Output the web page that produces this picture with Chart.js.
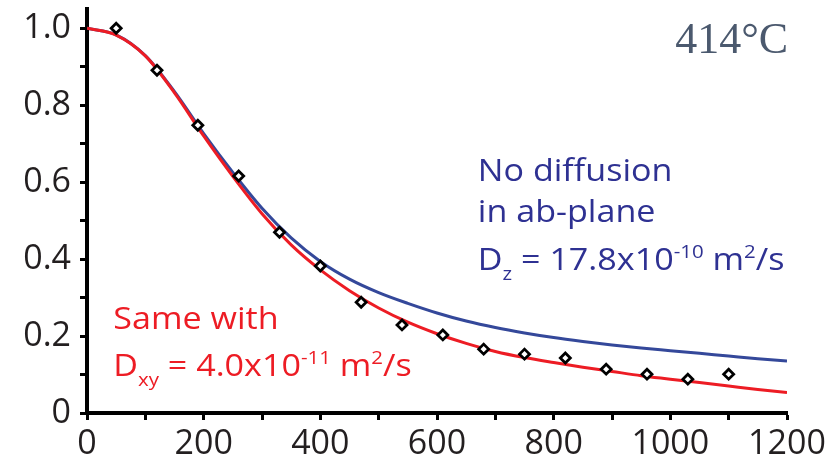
<!DOCTYPE html>
<html>
<head>
<meta charset="utf-8">
<script src="https://cdn.jsdelivr.net/npm/chart.js@4.4.1/dist/chart.umd.min.js"></script>
<style>
  html, body { margin: 0; padding: 0; background: #ffffff; }
  #c { display: block; }
</style>
</head>
<body>
<canvas id="c" width="838" height="462"></canvas>
<script>
// ---- data ----
const curveX = [0, 50, 100, 150, 200, 250, 300, 350, 400, 450, 500, 550, 600, 650, 700, 750, 800, 850, 900, 950, 1000, 1050, 1100, 1150, 1200];
const redY   = [1.000, 0.982, 0.928, 0.832, 0.720, 0.615, 0.518, 0.437, 0.372, 0.318, 0.273, 0.236, 0.206, 0.181, 0.160, 0.144, 0.131, 0.119, 0.108, 0.097, 0.088, 0.079, 0.070, 0.061, 0.053];
const blueY  = [1.000, 0.983, 0.929, 0.835, 0.726, 0.625, 0.532, 0.455, 0.394, 0.348, 0.313, 0.285, 0.260, 0.239, 0.222, 0.208, 0.196, 0.186, 0.177, 0.169, 0.162, 0.155, 0.148, 0.141, 0.135];
const pointX = [50, 120, 190, 260, 330, 400, 470, 540, 610, 680, 750, 820, 890, 960, 1030, 1100];
const pointY = [1.000, 0.891, 0.748, 0.616, 0.470, 0.382, 0.288, 0.229, 0.203, 0.166, 0.153, 0.143, 0.114, 0.101, 0.088, 0.101];
const xTickLabels = ['0', '200', '400', '600', '800', '1000', '1200'];
const yTickLabels = ['0', '0.2', '0.4', '0.6', '0.8', '1.0'];
const tempLabel = '414°C';
const blueNote = ['No diffusion', 'in ab-plane'];
const redNote = ['Same with'];

const RED = '#ed1c24';
const BLUE_LINE = '#34489a';
const BLUE_TEXT = '#2e3192';
const INK = '#231f20';

const toXY = (xs, ys) => xs.map((x, i) => ({ x: x, y: ys[i] }));

function drawRuns(ctx, runs, x, y, size, color, sx) {
  ctx.save();
  ctx.translate(x, y);
  ctx.scale(sx, 1);
  ctx.fillStyle = color;
  ctx.textBaseline = 'alphabetic';
  ctx.textAlign = 'left';
  let cx = 0;
  runs.forEach(r => {
    const s = (r.sup || r.sub) ? size * 0.6 : size;
    ctx.font = s + 'px "Open Sans"';
    const dy = r.sup ? -size * 0.40 : (r.sub ? size * 0.32 : 0);
    ctx.fillText(r.t, cx, dy);
    cx += ctx.measureText(r.t).width;
  });
  ctx.restore();
}

const notesPlugin = {
  id: 'notes',
  afterDraw(chart) {
    const ctx = chart.ctx;
    const xs = chart.scales.x, ys = chart.scales.y;
    const fs = 31, sx = 1.1;
    // temperature label
    ctx.save();
    ctx.font = '44px "Liberation Serif"';
    ctx.fillStyle = '#4b596e';
    ctx.textAlign = 'right';
    ctx.textBaseline = 'alphabetic';
    ctx.fillText(tempLabel, xs.getPixelForValue(1202), ys.getPixelForValue(0.935));
    ctx.restore();
    // blue note
    const bx = xs.getPixelForValue(670);
    drawRuns(ctx, [{ t: blueNote[0] }], bx, ys.getPixelForValue(0.603), fs, BLUE_TEXT, sx);
    drawRuns(ctx, [{ t: blueNote[1] }], bx, ys.getPixelForValue(0.496), fs, BLUE_TEXT, sx);
    drawRuns(ctx, [{ t: 'D' }, { t: 'z', sub: true }, { t: ' = 17.8x10' }, { t: '-10', sup: true }, { t: ' m' }, { t: '2', sup: true }, { t: '/s' }],
      bx, ys.getPixelForValue(0.371), fs, BLUE_TEXT, sx);
    // red note
    const rx = xs.getPixelForValue(45);
    drawRuns(ctx, [{ t: redNote[0] }], rx, ys.getPixelForValue(0.218), fs, RED, sx);
    drawRuns(ctx, [{ t: 'D' }, { t: 'xy', sub: true }, { t: ' = 4.0x10' }, { t: '-11', sup: true }, { t: ' m' }, { t: '2', sup: true }, { t: '/s' }],
      rx, ys.getPixelForValue(0.096), fs, RED, sx);
  }
};

new Chart(document.getElementById('c'), {
  type: 'scatter',
  data: {
    datasets: [
      {
        label: 'measured',
        data: toXY(pointX, pointY),
        pointStyle: 'rectRot',
        pointRadius: 5,
        pointBorderWidth: 2.8,
        pointBorderColor: '#000000',
        pointBackgroundColor: '#ffffff',
        showLine: false
      },
      {
        label: 'Dxy',
        data: toXY(curveX, redY),
        showLine: true,
        borderColor: RED,
        borderWidth: 3,
        pointRadius: 0,
        cubicInterpolationMode: 'monotone',
        fill: false
      },
      {
        label: 'Dz',
        data: toXY(curveX, blueY),
        showLine: true,
        borderColor: BLUE_LINE,
        borderWidth: 3,
        pointRadius: 0,
        cubicInterpolationMode: 'monotone',
        fill: false
      }
    ]
  },
  options: {
    responsive: false,
    animation: false,
    devicePixelRatio: 1,
    layout: { padding: { top: 9, right: 51, left: 0, bottom: 0 } },
    plugins: { legend: { display: false }, tooltip: { enabled: false } },
    scales: {
      x: {
        type: 'linear',
        min: 0, max: 1200,
        afterFit: s => { s.height = 49; s.paddingLeft = 0; s.paddingRight = 0; },
        border: { display: true, color: '#000000', width: 4 },
        grid: { drawOnChartArea: false, drawTicks: true, tickLength: 7, tickWidth: 3, tickColor: '#000000' },
        ticks: {
          stepSize: 100, autoSkip: false, maxRotation: 0, padding: 4, includeBounds: false,
          color: INK,
          font: { family: '"Open Sans"', size: 34 },
          callback: v => (Math.round(v) % 200 === 0 ? xTickLabels[Math.round(v) / 200] : '')
        }
      },
      y: {
        type: 'linear',
        min: 0, max: 1.05,
        afterFit: s => { s.width = 87; s.paddingTop = 0; s.paddingBottom = 0; },
        border: { display: true, color: '#000000', width: 4 },
        grid: { drawOnChartArea: false, drawTicks: true, tickLength: 7, tickWidth: 3, tickColor: '#000000' },
        ticks: {
          stepSize: 0.1, autoSkip: false, padding: 9, includeBounds: false,
          color: INK,
          font: { family: '"Open Sans"', size: 34 },
          callback: v => { const k = Math.round(v * 10); return k % 2 === 0 ? yTickLabels[k / 2] : ''; }
        }
      }
    }
  },
  plugins: [notesPlugin]
});
</script>
</body>
</html>
